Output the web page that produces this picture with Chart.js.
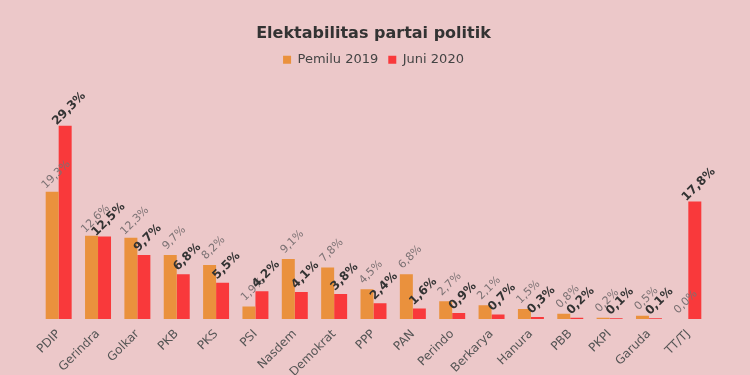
<!DOCTYPE html>
<html>
<head>
<meta charset="utf-8">
<script src="https://cdn.jsdelivr.net/npm/chart.js@4"></script>
<style>
    html, body { margin: 0; padding: 0; background: #ecc8c9; }
    #wrap { width: 750px; height: 375px; position: relative; }
</style>
</head>
<body>
<div id="wrap"><canvas id="partyChart"></canvas></div>
<script>
// --- Data ---
const parties = ['PDIP', 'Gerindra', 'Golkar', 'PKB', 'PKS', 'PSI', 'Nasdem', 'Demokrat', 'PPP',
    'PAN', 'Perindo', 'Berkarya', 'Hanura', 'PBB', 'PKPI', 'Garuda', 'TT/TJ'];
const pemilu2019 = [19.3, 12.6, 12.3, 9.7, 8.2, 1.9, 9.1, 7.8, 4.5, 6.8, 2.7, 2.1, 1.5, 0.8, 0.2, 0.5, 0.0];
const juni2020 = [29.3, 12.5, 9.7, 6.8, 5.5, 4.2, 4.1, 3.8, 2.4, 1.6, 0.9, 0.7, 0.3, 0.2, 0.1, 0.1, 17.8];

const FONT = '"DejaVu Sans", Verdana, sans-serif';

// rotated value labels above each bar
const valueLabels = {
    id: 'valueLabels',
    afterDatasetsDraw(chart) {
        const ctx = chart.ctx;
        chart.data.datasets.forEach((ds, i) => {
            const meta = chart.getDatasetMeta(i);
            meta.data.forEach((bar, j) => {
                const txt = ds.data[j].toFixed(1).replace('.', ',') + '%';
                ctx.save();
                ctx.translate(bar.x + 4, bar.y - 17);
                ctx.rotate(-Math.PI / 4);
                ctx.font = i === 0 ? '11px ' + FONT : 'bold 12px ' + FONT;
                ctx.fillStyle = i === 0 ? '#7b7173' : '#333333';
                ctx.textAlign = 'center';
                ctx.textBaseline = 'middle';
                ctx.fillText(txt, 0, 0);
                ctx.restore();
            });
        });
    }
};

const ctx = document.getElementById('partyChart').getContext('2d');
new Chart(ctx, {
    type: 'bar',
    data: {
        labels: parties,
        datasets: [
            { label: 'Pemilu 2019', data: pemilu2019, backgroundColor: '#ea913d' },
            { label: 'Juni 2020', data: juni2020, backgroundColor: '#f9393b' }
        ]
    },
    options: {
        responsive: true,
        maintainAspectRatio: false,
        animation: false,
        datasets: { bar: { barPercentage: 1, categoryPercentage: 0.66 } },
        layout: { padding: { left: 39, right: 42, top: 0, bottom: 0 } },
        plugins: {
            tooltip: { enabled: false },
            title: {
                display: true,
                text: 'Elektabilitas partai politik',
                color: '#333333',
                font: { family: FONT, size: 16, weight: 'bold' },
                padding: { top: 24, bottom: 0 }
            },
            legend: {
                labels: {
                    color: '#444444',
                    boxWidth: 8,
                    boxHeight: 8,
                    padding: 10,
                    font: { family: FONT, size: 13 }
                }
            }
        },
        scales: {
            x: {
                grid: { display: false },
                border: { display: false },
                afterFit: (scale) => { scale.height = 56; },
                ticks: {
                    color: '#555555',
                    font: { family: FONT, size: 12 },
                    padding: 0,
                    minRotation: 45,
                    maxRotation: 45,
                    autoSkip: false
                }
            },
            y: {
                display: false,
                min: 0,
                max: 36.8
            }
        }
    },
    plugins: [valueLabels]
});
</script>
</body>
</html>
